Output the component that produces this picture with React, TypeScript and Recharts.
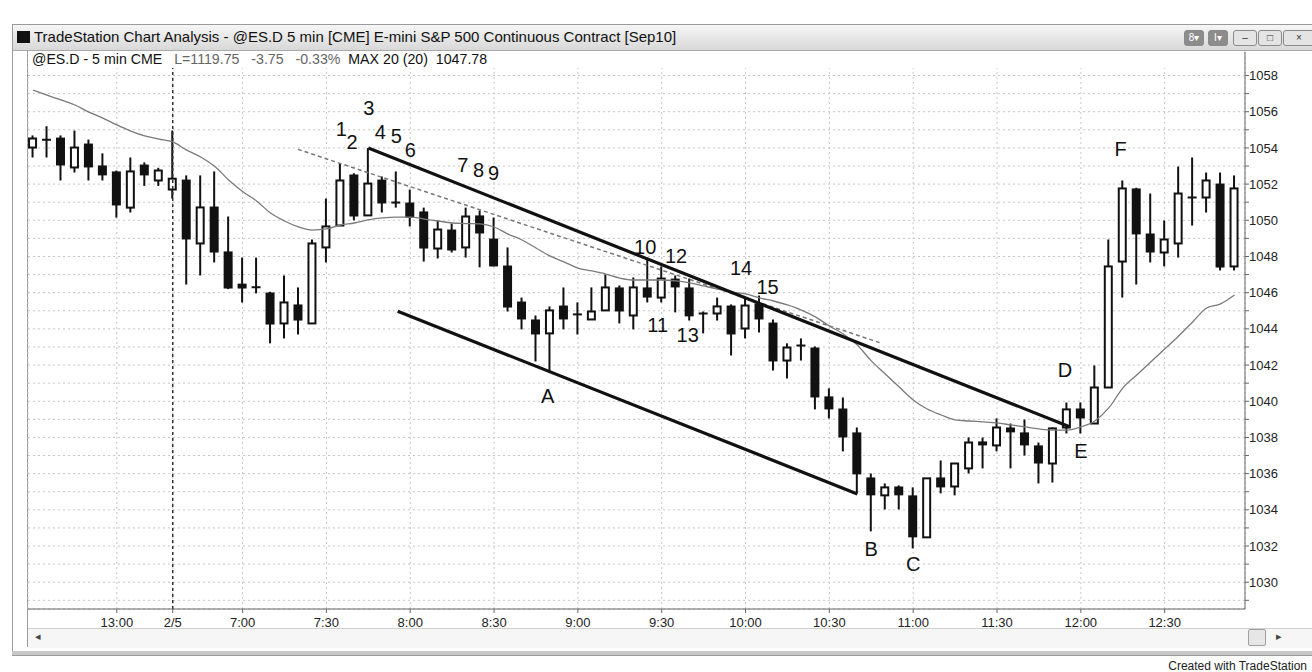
import React from "react";
import {
  ComposedChart,
  Bar,
  Line,
  XAxis,
  YAxis,
  CartesianGrid,
  ReferenceLine,
  ReferenceDot,
} from "recharts";

// 5 min bars, index 0 = 12:30 on the prior session, index 10 = first bar of 2/5
const opens = [
  1054.02, 1054.45, 1054.57, 1052.92, 1054.24, 1053.03, 1052.7, 1050.7, 1053.08, 1052.2,
  1051.7, 1052.25, 1048.72, 1050.76, 1048.28, 1046.5, 1046.3, 1046.01, 1044.3, 1045.35,
  1044.3, 1048.5, 1049.71, 1052.53, 1050.27, 1052.25, 1050.98, 1050.98, 1050.49, 1048.44,
  1049.49, 1048.5, 1050.27, 1048.99, 1047.5, 1045.51, 1044.52, 1043.75, 1045.29, 1044.8,
  1044.52, 1045.02, 1046.29, 1044.74, 1046.29, 1045.73, 1046.78, 1046.29, 1044.85, 1044.85,
  1045.29, 1044.02, 1045.4, 1044.35, 1042.25, 1043.08, 1042.97, 1040.27, 1039.6, 1038.28,
  1035.79, 1034.8, 1035.29, 1034.8, 1032.48, 1035.79, 1035.29, 1036.29, 1037.78, 1037.56,
  1038.55, 1038.28, 1037.56, 1036.56, 1038.55, 1039.6, 1038.77, 1040.76, 1047.72, 1051.76,
  1049.27, 1048.22, 1048.72, 1051.26, 1051.26, 1052.03, 1047.45,
];
const highs = [
  1054.69, 1055.2, 1054.69, 1054.96, 1054.46, 1053.7, 1052.75, 1053.47, 1053.2, 1052.9,
  1054.96, 1052.48, 1052.48, 1052.7, 1050.21, 1047.94, 1047.94, 1046.05, 1046.95, 1046.29,
  1048.94, 1051.2, 1053.14, 1052.6, 1053.99, 1052.42, 1052.7, 1051.7, 1050.7, 1049.99,
  1049.82, 1050.7, 1050.54, 1050.15, 1048.5, 1045.73, 1044.74, 1045.24, 1046.29, 1045.46,
  1046.29, 1047.0, 1046.4, 1046.84, 1047.94, 1047.45, 1046.95, 1046.78, 1044.96, 1045.73,
  1045.35, 1045.68, 1045.84, 1044.52, 1043.2, 1043.47, 1043.03, 1040.71, 1040.21, 1038.55,
  1036.01, 1035.46, 1035.35, 1035.24, 1035.74, 1036.73, 1036.56, 1038.0, 1038.0, 1039.05,
  1038.77, 1038.99, 1037.72, 1038.55, 1039.93, 1039.93, 1041.98, 1048.94, 1052.2, 1051.8,
  1051.48, 1049.99, 1052.97, 1053.47, 1052.64, 1052.64, 1052.48,
];
const lows = [
  1053.47, 1053.47, 1052.2, 1052.64, 1052.2, 1052.2, 1050.15, 1050.43, 1051.9, 1051.9,
  1051.2, 1046.45, 1046.95, 1047.67, 1046.2, 1045.46, 1045.96, 1043.2, 1043.47, 1043.69,
  1044.28, 1047.67, 1049.7, 1050.0, 1050.25, 1050.43, 1050.7, 1049.66, 1047.72, 1047.89,
  1048.22, 1047.94, 1047.4, 1047.45, 1044.96, 1043.97, 1042.2, 1041.6, 1043.97, 1043.69,
  1044.5, 1045.0, 1044.3, 1043.97, 1045.46, 1045.46, 1044.91, 1044.46, 1043.75, 1044.46,
  1042.53, 1043.47, 1043.8, 1041.7, 1041.26, 1042.25, 1039.55, 1039.05, 1037.23, 1034.91,
  1032.81, 1034.02, 1034.02, 1031.87, 1032.45, 1034.91, 1034.8, 1036.01, 1036.29, 1037.23,
  1036.29, 1037.0, 1035.46, 1035.51, 1038.22, 1038.22, 1038.75, 1040.74, 1045.73, 1046.45,
  1047.67, 1047.45, 1047.94, 1049.71, 1050.43, 1047.23, 1047.23,
];
const closes = [
  1054.52, 1054.45, 1053.03, 1054.02, 1052.92, 1052.48, 1050.82, 1052.7, 1052.48, 1052.75,
  1052.3, 1048.94, 1050.71, 1048.22, 1046.23, 1046.23, 1046.3, 1044.24, 1045.46, 1044.46,
  1048.72, 1049.66, 1052.2, 1050.21, 1052.03, 1050.93, 1050.98, 1050.15, 1048.44, 1049.49,
  1048.33, 1050.21, 1049.27, 1047.45, 1045.18, 1044.52, 1043.69, 1045.02, 1044.52, 1044.8,
  1044.96, 1046.29, 1044.96, 1046.29, 1045.73, 1046.78, 1046.29, 1044.69, 1044.85, 1045.24,
  1043.69, 1045.29, 1044.52, 1042.2, 1042.97, 1043.08, 1040.21, 1039.55, 1038.0, 1035.96,
  1034.8, 1035.24, 1034.8, 1032.48, 1035.74, 1035.24, 1036.56, 1037.72, 1037.56, 1038.55,
  1038.28, 1037.56, 1036.56, 1038.5, 1039.55, 1039.05, 1040.76, 1047.45, 1051.76, 1049.22,
  1048.22, 1048.94, 1051.48, 1051.26, 1052.2, 1047.39, 1051.76,
];
// 20 bar moving average
const ma20 = [
  1057.2, 1056.92, 1056.65, 1056.37, 1055.98, 1055.65, 1055.27, 1054.93, 1054.66, 1054.49,
  1054.33, 1053.88, 1053.5, 1052.98, 1052.23, 1051.59, 1051.07, 1050.4, 1049.96, 1049.63,
  1049.46, 1049.52, 1049.74, 1049.85, 1050.02, 1050.13, 1050.18, 1050.18, 1050.07, 1049.96,
  1049.85, 1049.82, 1049.8, 1049.63, 1049.24, 1048.91, 1048.47, 1048.03, 1047.7, 1047.36,
  1047.2, 1047.03, 1046.81, 1046.7, 1046.7, 1046.7, 1046.65, 1046.54, 1046.37, 1046.2,
  1046.04, 1045.93, 1045.71, 1045.54, 1045.32, 1045.04, 1044.66, 1044.16, 1043.72, 1043.11,
  1042.23, 1041.51, 1040.79, 1040.07, 1039.57, 1039.24, 1038.97, 1038.91, 1038.86, 1038.8,
  1038.69, 1038.58, 1038.47, 1038.41, 1038.41, 1038.58, 1038.91, 1039.63, 1040.73, 1041.45,
  1042.17, 1042.89, 1043.61, 1044.38, 1045.15, 1045.38, 1045.87,
];

const timeTicks = [6, 10, 15, 21, 27, 33, 39, 45, 51, 57, 63, 69, 75, 81];
const timeLabels = [
  "13:00", "2/5", "7:00", "7:30", "8:00", "8:30", "9:00",
  "9:30", "10:00", "10:30", "11:00", "11:30", "12:00", "12:30",
];
const priceTicks = [
  1029, 1030, 1031, 1032, 1033, 1034, 1035, 1036, 1037, 1038, 1039, 1040, 1041, 1042, 1043,
  1044, 1045, 1046, 1047, 1048, 1049, 1050, 1051, 1052, 1053, 1054, 1055, 1056, 1057, 1058,
];

// hand-drawn annotations (bar index, price)
const markText = ["1", "2", "3", "4", "5", "6", "7", "8", "9", "10", "11", "12", "13", "14", "15", "A", "B", "C", "D", "E", "F"];
const markBar = [22.07, 22.83, 24.03, 24.86, 26.01, 27.01, 30.77, 31.89, 32.96, 43.82, 44.71, 46.03, 46.86, 50.68, 52.58, 36.83, 60.0, 63.0, 73.86, 75.01, 77.85];
const markPrice = [1055.04, 1054.34, 1056.2, 1054.9, 1054.67, 1053.88, 1053.04, 1052.78, 1052.61, 1048.54, 1044.22, 1048.04, 1043.66, 1047.39, 1046.33, 1040.29, 1031.84, 1031.01, 1041.73, 1037.27, 1053.94];

const trendLine = [{ x: 24, y: 1053.99 }, { x: 74.15, y: 1038.61 }];
const channelLine = [{ x: 26.1, y: 1044.97 }, { x: 59, y: 1034.88 }];
const dashedLine = [{ x: 18.96, y: 1053.92 }, { x: 60.8, y: 1043.19 }];

const rows = opens.map((o, i) => ({
  i,
  open: o,
  high: highs[i],
  low: lows[i],
  close: closes[i],
  ma: ma20[i],
}));

const font = '"Liberation Sans", Arial, Helvetica, sans-serif';

function Candle(props: any) {
  const { x, y, width, height, payload } = props;
  if (!payload) return null;
  const { open, high, low, close } = payload;
  const top = Math.min(y, y + height);
  const span = Math.abs(height);
  const k = high > low ? span / (high - low) : 0;
  const cx = x + width / 2;
  const yOpen = top + (high - open) * k;
  const yClose = top + (high - close) * k;
  const bTop = Math.min(yOpen, yClose);
  const bH = Math.abs(yClose - yOpen);
  const w = 9;
  const wick = <line x1={cx} x2={cx} y1={top} y2={top + span} stroke="#111" strokeWidth={2} />;
  if (bH < 1.5) {
    return (
      <g>
        {wick}
        <line x1={cx - w / 2} x2={cx + w / 2} y1={yClose} y2={yClose} stroke="#111" strokeWidth={2} />
      </g>
    );
  }
  if (close > open) {
    return (
      <g>
        {wick}
        <rect x={cx - w / 2 + 1} y={bTop} width={w - 2} height={bH} fill="#fff" stroke="#111" strokeWidth={2} />
      </g>
    );
  }
  return (
    <g>
      {wick}
      <rect x={cx - w / 2} y={bTop} width={w} height={bH} fill="#111" />
    </g>
  );
}

const btn = (left: number, width: number, bg: string, color: string, text: string) => (
  <div
    style={{
      position: "absolute",
      left,
      top: 30,
      width,
      height: 14,
      background: bg,
      border: "1px solid #8a8a8a",
      borderRadius: 3,
      color,
      fontSize: 10,
      lineHeight: "14px",
      textAlign: "center",
    }}
  >
    {text}
  </div>
);

export default function App() {
  return (
    <div
      style={{
        position: "absolute",
        left: 0,
        top: 0,
        width: 1312,
        height: 672,
        background: "#fff",
        overflow: "hidden",
        fontFamily: font,
      }}
    >
      {/* window */}
      <div style={{ position: "absolute", left: 12, top: 24, width: 1320, height: 630, border: "1px solid #9a9a9a", background: "#fff" }} />
      <div
        style={{
          position: "absolute",
          left: 13,
          top: 25,
          width: 1320,
          height: 25,
          background: "linear-gradient(#f6f6f6, #d8d8d8)",
          borderBottom: "1px solid #aaa",
        }}
      />
      <div style={{ position: "absolute", left: 17, top: 31, width: 13, height: 12, background: "#111" }} />
      <div style={{ position: "absolute", left: 34, top: 28, fontSize: 15, color: "#111", whiteSpace: "nowrap" }}>
        {"TradeStation Chart Analysis - @ES.D 5 min [CME] E-mini S&P 500 Continuous Contract [Sep10]"}
      </div>
      {btn(1184, 18, "#8c8c8c", "#fff", "8▾")}
      {btn(1208, 18, "#8c8c8c", "#fff", "I▾")}
      {btn(1233, 22, "#e4e4e4", "#333", "–")}
      {btn(1258, 22, "#e4e4e4", "#333", "□")}
      {btn(1283, 30, "#e4e4e4", "#333", "×")}

      {/* plot frame */}
      <div style={{ position: "absolute", left: 27, top: 51, width: 1, height: 596, background: "#9a9a9a" }} />

      <div style={{ position: "absolute", left: 0, top: 0 }}>
        <ComposedChart
          width={1312}
          height={672}
          data={rows}
          margin={{ top: 52, right: 17, bottom: 33, left: 28 }}
        >
          <CartesianGrid stroke="#c6c6c6" strokeDasharray="2 3" />
          <XAxis
            dataKey="i"
            type="number"
            domain={[-0.36, 86.75]}
            allowDataOverflow
            ticks={timeTicks}
            interval={0}
            tickFormatter={(v: number) => timeLabels[timeTicks.indexOf(v)] ?? ""}
            tickSize={4}
            tickMargin={5}
            height={30}
            axisLine={{ stroke: "#666" }}
            tickLine={{ stroke: "#666" }}
            tick={{ fontSize: 13, fill: "#222", fontFamily: font }}
          />
          <YAxis
            orientation="right"
            type="number"
            width={50}
            domain={[1028.52, 1059.3]}
            allowDataOverflow
            ticks={priceTicks}
            interval={0}
            tickFormatter={(v: number) => (v % 2 === 0 ? String(v) : "")}
            tickSize={4}
            tickMargin={0}
            axisLine={{ stroke: "#666" }}
            tickLine={{ stroke: "#666" }}
            tick={{ fontSize: 13, fill: "#222", fontFamily: font, textAnchor: "start" }}
          />
          <ReferenceLine x={10} stroke="#333" strokeDasharray="3 3" strokeWidth={1.5} />
          <Line
            dataKey="ma"
            type="monotone"
            stroke="#7a7a7a"
            strokeWidth={1.3}
            dot={false}
            isAnimationActive={false}
          />
          <Bar
            dataKey={(d: any) => [d.low, d.high]}
            barSize={9}
            shape={Candle}
            isAnimationActive={false}
          />
          <ReferenceLine segment={dashedLine} stroke="#777" strokeWidth={1.5} strokeDasharray="4 3" ifOverflow="visible" />
          <ReferenceLine segment={trendLine} stroke="#111" strokeWidth={3.2} ifOverflow="visible" />
          <ReferenceLine segment={channelLine} stroke="#111" strokeWidth={3.2} ifOverflow="visible" />
          {markText.map((t, i) => (
            <ReferenceDot
              key={t}
              x={markBar[i]}
              y={markPrice[i]}
              r={0}
              ifOverflow="visible"
              shape={(p: any) => (
                <text
                  x={p.cx}
                  y={p.cy}
                  dy="0.36em"
                  textAnchor="middle"
                  fontSize={20}
                  fontFamily={font}
                  fill="#111"
                >
                  {t}
                </text>
              )}
            />
          ))}
        </ComposedChart>
      </div>

      {/* study header */}
      <div
        style={{
          position: "absolute",
          left: 28,
          top: 51,
          width: 1216,
          height: 17,
          paddingLeft: 4,
          boxSizing: "border-box",
          background: "#fff",
          fontSize: 14.2,
          lineHeight: "17px",
          color: "#111",
          whiteSpace: "pre",
        }}
      >
        {"@ES.D - 5 min CME   "}
        <span style={{ color: "#666" }}>{"L=1119.75   -3.75   -0.33%"}</span>
        {"  MAX 20 (20)  1047.78"}
      </div>

      {/* scrollbar */}
      <div style={{ position: "absolute", left: 28, top: 628, width: 1284, height: 19, background: "#f6f6f6", borderTop: "1px solid #d0d0d0" }} />
      <div style={{ position: "absolute", left: 35, top: 630, fontSize: 11, color: "#444" }}>◂</div>
      <div style={{ position: "absolute", left: 1248, top: 629, width: 16, height: 15, background: "#e6e6e6", border: "1px solid #a0a0a0", borderRadius: 2 }} />
      <div style={{ position: "absolute", left: 1276, top: 630, fontSize: 11, color: "#444" }}>▸</div>
      <div style={{ position: "absolute", left: 12, top: 651, width: 1310, height: 4, background: "#c8c8c8" }} />

      <div style={{ position: "absolute", right: 5, top: 659, fontSize: 12, color: "#222" }}>
        Created with TradeStation
      </div>
    </div>
  );
}
